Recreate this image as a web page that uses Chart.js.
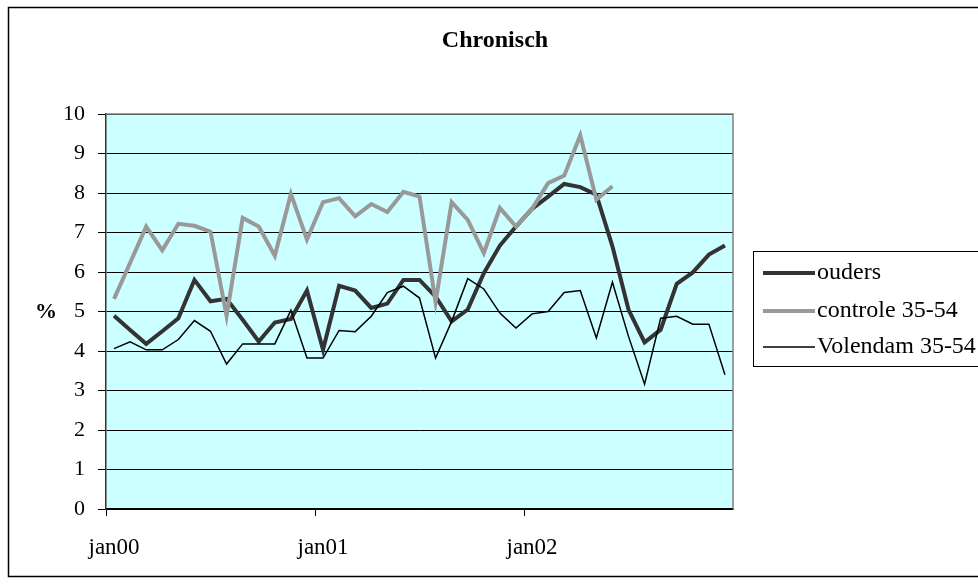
<!DOCTYPE html>
<html>
<head>
<meta charset="utf-8">
<script src="https://cdn.jsdelivr.net/npm/chart.js@4.4.0/dist/chart.umd.min.js"></script>
<style>
  html, body { margin: 0; padding: 0; background: #fff; }
</style>
</head>
<body>
<canvas id="myChart" width="978" height="585"></canvas>
<script>
// 13 four-weekly periods per year, only the first of each year is labelled
const periods = [
  'jan00','','','','','','','','','','','','',
  'jan01','','','','','','','','','','','','',
  'jan02','','','','','','','','','','','',''
];

const ouders = [4.89, 4.53, 4.18, 4.5, 4.83, 5.8, 5.26, 5.32, 4.79, 4.24,
  4.72, 4.81, 5.53, 4.03, 5.65, 5.53, 5.09, 5.2, 5.8, 5.8,
  5.38, 4.75, 5.05, 5.97, 6.67, 7.15, 7.6, 7.91, 8.23, 8.15,
  7.96, 6.65, 5.05, 4.22, 4.54, 5.70, 5.99, 6.44, 6.67];

const controle = [5.32, 6.23, 7.15, 6.55, 7.22, 7.17, 7.02, 4.89, 7.37, 7.15,
  6.41, 7.98, 6.82, 7.77, 7.87, 7.41, 7.72, 7.52, 8.03, 7.91,
  5.24, 7.77, 7.32, 6.48, 7.62, 7.15, 7.6, 8.25, 8.44, 9.46,
  7.83, 8.17, null, null, null, null, null, null, null];

const volendam = [4.06, 4.23, 4.03, 4.03, 4.29, 4.77, 4.5, 3.67, 4.18, 4.18,
  4.18, 5.03, 3.82, 3.82, 4.52, 4.49, 4.88, 5.48, 5.64, 5.34,
  3.82, 4.75, 5.83, 5.57, 4.96, 4.58, 4.94, 5.0, 5.48, 5.53,
  4.33, 5.74, 4.37, 3.16, 4.83, 4.88, 4.68, 4.68, 3.40];

const seriesNames = ['ouders', 'controle 35-54', 'Volendam 35-54'];
const yTicks = [0, 1, 2, 3, 4, 5, 6, 7, 8, 9, 10];

const serif = 'Liberation Serif, Times New Roman, serif';

// background, frame, title, % label and the legend box
const decor = {
  id: 'decor',
  beforeDraw(chart) {
    const c = chart.ctx, a = chart.chartArea;
    c.save();
    c.fillStyle = '#ccffff';
    c.fillRect(a.left, a.top, a.right - a.left, a.bottom - a.top);
    c.restore();
  },
  afterDraw(chart) {
    const c = chart.ctx, a = chart.chartArea;
    c.save();
    // outer frame
    c.strokeStyle = '#000';
    c.lineWidth = 1.5;
    c.strokeRect(8.5, 7.5, 1000, 569);
    // plot border top / right
    c.strokeStyle = '#808080';
    c.lineWidth = 1.5;
    c.beginPath();
    c.moveTo(a.left, a.top);
    c.lineTo(a.right, a.top);
    c.lineTo(a.right, a.bottom);
    c.stroke();
    // title
    c.fillStyle = '#000';
    c.font = 'bold 24px ' + serif;
    c.textAlign = 'center';
    c.textBaseline = 'middle';
    c.fillText('Chronisch', 495, 41);
    // y unit
    c.font = 'bold 22px ' + serif;
    c.fillText('%', 46, 312);
    // legend
    c.strokeStyle = '#000';
    c.lineWidth = 1;
    c.strokeRect(753.5, 251.5, 300, 115);
    const rows = [273, 311, 347];
    chart.data.datasets.forEach((ds, i) => {
      c.strokeStyle = ds.borderColor;
      c.lineWidth = ds.borderWidth;
      c.beginPath();
      c.moveTo(763, rows[i]);
      c.lineTo(815, rows[i]);
      c.stroke();
      c.fillStyle = '#000';
      c.font = '24px ' + serif;
      c.textAlign = 'left';
      c.fillText(ds.label, 817, rows[i]);
    });
    c.restore();
  }
};

new Chart(document.getElementById('myChart'), {
  type: 'line',
  data: {
    labels: periods,
    datasets: [
      { label: seriesNames[0], data: ouders, borderColor: '#333333', borderWidth: 4, order: 3 },
      { label: seriesNames[1], data: controle, borderColor: '#999999', borderWidth: 4, order: 2 },
      { label: seriesNames[2], data: volendam, borderColor: '#000000', borderWidth: 1.5, order: 1 }
    ]
  },
  options: {
    responsive: false,
    animation: false,
    layout: { padding: { top: 114, right: 245, left: 0, bottom: 0 } },
    elements: { point: { radius: 0 }, line: { tension: 0 } },
    plugins: {
      legend: { display: false },
      title: { display: false },
      tooltip: { enabled: false }
    },
    scales: {
      x: {
        offset: true,
        afterFit(s) { s.height = 76; },
        grid: {
          offset: true,
          drawOnChartArea: false,
          tickLength: 7,
          tickWidth: 1,
          tickColor: ctx => (ctx.index % 13 === 0 ? '#000' : 'rgba(0,0,0,0)')
        },
        border: { color: '#000', width: 1.5 },
        ticks: {
          autoSkip: false,
          maxRotation: 0,
          padding: 18,
          color: '#000',
          font: { family: serif, size: 23 }
        }
      },
      y: {
        min: 0,
        max: 10,
        afterFit(s) { s.width = 106; },
        afterBuildTicks(s) { s.ticks = yTicks.map(v => ({ value: v })); },
        grid: { color: '#000', lineWidth: 1, tickLength: 8 },
        border: { color: '#333', width: 1.5 },
        ticks: {
          padding: 13,
          color: '#000',
          font: { family: serif, size: 22 }
        }
      }
    }
  },
  plugins: [decor]
});
</script>
</body>
</html>
